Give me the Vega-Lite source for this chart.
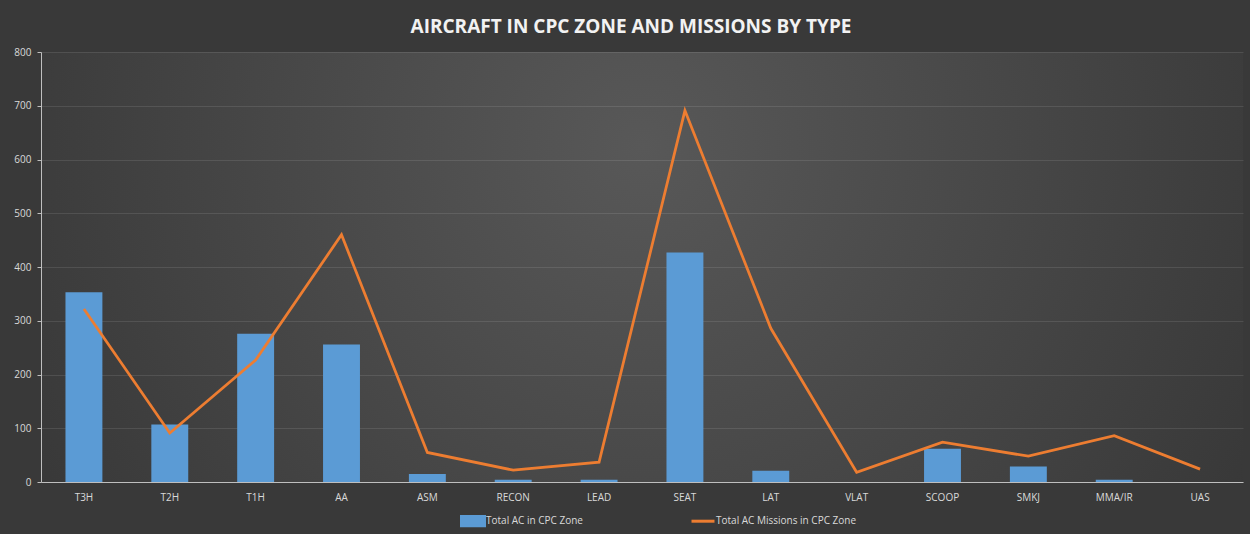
{
  "$schema": "https://vega.github.io/schema/vega-lite/v6.json",
  "autosize": "none",
  "width": 1202,
  "height": 430,
  "padding": {"left": 41, "top": 52, "right": 7, "bottom": 52},
  "background": "#393939",
  "title": {
    "text": "AIRCRAFT IN CPC ZONE AND MISSIONS BY TYPE",
    "font": "Open Sans",
    "fontSize": 19,
    "fontWeight": "bold",
    "color": "#f2f2f2",
    "anchor": "middle",
    "offset": 10,
    "dx": -11
  },
  "data": {
    "values": [
      {"type": "T3H", "ac": 353, "missions": 322},
      {"type": "T2H", "ac": 107, "missions": 91},
      {"type": "T1H", "ac": 276, "missions": 227},
      {"type": "AA", "ac": 256, "missions": 460},
      {"type": "ASM", "ac": 15, "missions": 55},
      {"type": "RECON", "ac": 4, "missions": 22},
      {"type": "LEAD", "ac": 4, "missions": 37},
      {"type": "SEAT", "ac": 427, "missions": 691},
      {"type": "LAT", "ac": 21, "missions": 286},
      {"type": "VLAT", "ac": 0, "missions": 18},
      {"type": "SCOOP", "ac": 62, "missions": 74},
      {"type": "SMKJ", "ac": 29, "missions": 48},
      {"type": "MMA/IR", "ac": 4, "missions": 86},
      {"type": "UAS", "ac": 0, "missions": 24}
    ]
  },
  "encoding": {
    "x": {
      "field": "type",
      "type": "nominal",
      "sort": null,
      "title": null,
      "scale": {"paddingInner": 0, "paddingOuter": 0},
      "axis": {
        "labelAngle": 0,
        "labelFont": "Open Sans",
        "labelFontSize": 10,
        "labelColor": "#d9d9d9",
        "labelPadding": 10,
        "ticks": false,
        "domain": true,
        "domainColor": "#bfbfbf",
        "domainWidth": 1
      }
    }
  },
  "layer": [
    {
      "mark": {"type": "bar", "width": {"band": 0.43}, "color": "#5b9bd5"},
      "encoding": {
        "y": {
          "field": "ac",
          "type": "quantitative",
          "title": null,
          "scale": {"domain": [0, 800], "nice": false},
          "axis": {
            "values": [0, 100, 200, 300, 400, 500, 600, 700, 800],
            "labelFont": "Open Sans",
            "labelFontSize": 10,
            "labelColor": "#d9d9d9",
            "labelPadding": 6,
            "grid": true,
            "gridColor": "#ffffff",
            "gridOpacity": 0.1,
            "domain": true,
            "domainColor": "#bfbfbf",
            "ticks": true,
            "tickSize": 4,
            "tickColor": "#bfbfbf"
          }
        },
        "color": {
          "datum": "Total AC in CPC Zone",
          "type": "nominal",
          "scale": {
            "domain": ["Total AC in CPC Zone", "Total AC Missions  in CPC Zone"],
            "range": ["#5b9bd5", "#ed7d31"]
          },
          "legend": {
            "title": null,
            "orient": "none",
            "direction": "horizontal",
            "legendX": 419,
            "legendY": 456,
            "labelFont": "Open Sans",
            "labelFontSize": 10,
            "labelColor": "#d9d9d9",
            "labelOffset": 0,
            "columnPadding": 102,
            "symbolSize": 529,
            "encode": {
              "symbols": {
                "update": {
                  "shape": {"signal": "datum.value === 'Total AC in CPC Zone' ? 'M-1,-0.4H1V0.4H-1Z' : 'M-1,-0.4M1,0.4M-1,0H1'"},
                  "fill": {"signal": "datum.value === 'Total AC in CPC Zone' ? '#5b9bd5' : 'transparent'"},
                  "stroke": {"signal": "datum.value === 'Total AC in CPC Zone' ? 'transparent' : '#ed7d31'"},
                  "strokeWidth": {"value": 3},
                  "opacity": {"value": 1}
                }
              }
            }
          }
        }
      }
    },
    {
      "mark": {"type": "line", "strokeWidth": 2.75, "color": "#ed7d31"},
      "encoding": {
        "y": {"field": "missions", "type": "quantitative"},
        "color": {"datum": "Total AC Missions  in CPC Zone", "type": "nominal"}
      }
    }
  ],
  "config": {
    "view": {
      "stroke": null,
      "fill": {
        "gradient": "radial",
        "x1": 0.5, "y1": 0.4, "r1": 0,
        "x2": 0.5, "y2": 0.4, "r2": 0.8,
        "stops": [
          {"offset": 0, "color": "#585858"},
          {"offset": 1, "color": "#2c2c2c"}
        ]
      }
    }
  }
}
